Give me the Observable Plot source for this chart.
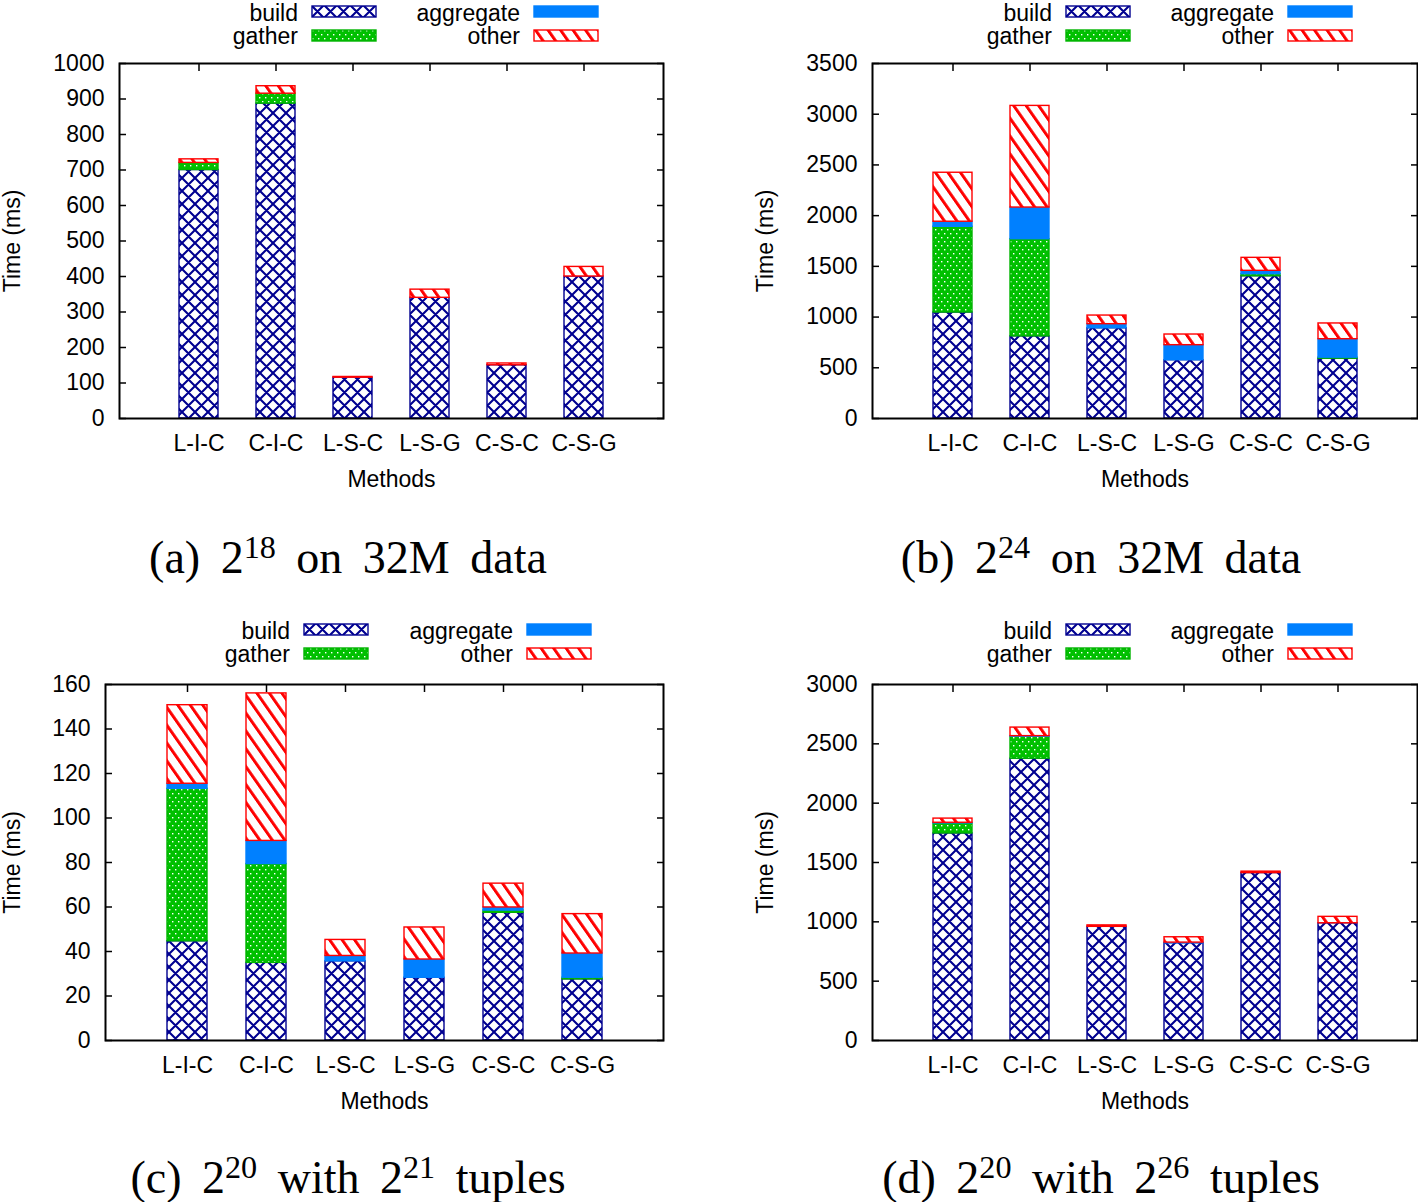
<!DOCTYPE html>
<html><head><meta charset="utf-8">
<script src="https://cdn.jsdelivr.net/npm/d3@7"></script>
<script src="https://cdn.jsdelivr.net/npm/@observablehq/plot@0.6"></script>
<style>
body{margin:0;background:#fff;}
#root{position:relative;width:1418px;height:1202px;overflow:hidden;font-family:"Liberation Sans",Arial,sans-serif;color:#000;}
.leg{position:absolute;font-size:23px;line-height:17px;white-space:nowrap;text-align:right;}
.sw{position:absolute;}
.cap{position:absolute;font-family:"Liberation Serif","Times New Roman",serif;font-size:46px;line-height:36px;white-space:nowrap;word-spacing:9px;transform:translateX(-50%);}
.cap sup{font-size:0.7em;vertical-align:0;position:relative;top:-0.47em;line-height:0;}
.plotwrap{position:absolute;}
</style></head><body>
<svg width="0" height="0" style="position:absolute">
<defs>
<pattern id="pat-build" patternUnits="userSpaceOnUse" width="13" height="13">
<rect width="13" height="13" fill="white"/>
<path d="M0,0L13,13M13,0L0,13M-2,11L2,15M11,-2L15,2M-2,2L2,-2M11,15L15,11" stroke="#000090" stroke-width="2.1" fill="none"/>
</pattern>
<pattern id="pat-gather" patternUnits="userSpaceOnUse" width="6" height="8">
<rect width="6" height="8" fill="#00c000"/>
<rect x="1" y="1" width="1.4" height="1.4" fill="white"/>
<rect x="4" y="5" width="1.4" height="1.4" fill="white"/>
</pattern>
<pattern id="pat-other" patternUnits="userSpaceOnUse" width="12.5" height="12" patternTransform="skewX(35)">
<rect width="12.5" height="12" fill="white"/>
<rect width="3.6" height="12" fill="#ff0000"/>
</pattern>
</defs>
</svg>
<div id="root"></div>
<script>
// ---- data ----
const methods = ["L-I-C", "C-I-C", "L-S-C", "L-S-G", "C-S-C", "C-S-G"];
const components = ["build", "gather", "aggregate", "other"];

// (a) 2^18 on 32M data
const a_build     = [700, 887, 115, 340, 150, 400];
const a_gather    = [20, 28, 0, 0, 0, 0];
const a_aggregate = [0, 0, 0, 0, 0, 0];
const a_other     = [10, 21, 2, 23, 5, 27];
const a_ticks     = [0, 100, 200, 300, 400, 500, 600, 700, 800, 900, 1000];

// (b) 2^24 on 32M data
const b_build     = [1045, 810, 890, 575, 1403, 590];
const b_gather    = [845, 958, 0, 0, 20, 10];
const b_aggregate = [50, 312, 40, 148, 33, 182];
const b_other     = [483, 1002, 85, 105, 128, 155];
const b_ticks     = [0, 500, 1000, 1500, 2000, 2500, 3000, 3500];

// (c) 2^20 with 2^21 tuples
const c_build     = [44.6, 34.9, 35.6, 28.2, 57.4, 27.5];
const c_gather    = [68.5, 44.4, 0, 0, 1.0, 0.7];
const c_aggregate = [2.3, 10.4, 2.4, 8.2, 1.4, 10.9];
const c_other     = [35.3, 66.3, 7.2, 14.4, 10.7, 17.7];
const c_ticks     = [0, 20, 40, 60, 80, 100, 120, 140, 160];

// (d) 2^20 with 2^26 tuples
const d_build     = [1745, 2375, 958, 820, 1411, 988];
const d_gather    = [85, 185, 0, 0, 0, 0];
const d_aggregate = [5, 5, 0, 5, 0, 0];
const d_other     = [35, 72, 12, 45, 12, 54];
const d_ticks     = [0, 500, 1000, 1500, 2000, 2500, 3000];

const captions = [
  "(a) 2<sup>18</sup> on 32M data",
  "(b) 2<sup>24</sup> on 32M data",
  "(c) 2<sup>20</sup> with 2<sup>21</sup> tuples",
  "(d) 2<sup>20</sup> with 2<sup>26</sup> tuples"
];
const yTitle = "Time (ms)";
const xTitle = "Methods";

// ---- styles ----
const fills = {build: "url(#pat-build)", gather: "url(#pat-gather)", aggregate: "#0080ff", other: "url(#pat-other)"};
const strokes = {build: "#000090", gather: "#00b400", aggregate: "#0080ff", other: "#ff0000"};

const root = document.getElementById("root");

function panel(cfg) {
  const series = cfg.series;
  const rows = [];
  methods.forEach((m, i) => components.forEach(c => {
    const v = series[c][i];
    if (v > 0) rows.push({method: m, component: c, value: v});
  }));
  const plot = Plot.plot({
    width: cfg.w, height: cfg.h,
    marginLeft: cfg.ml, marginRight: cfg.mr, marginTop: cfg.mt, marginBottom: cfg.mb,
    style: {fontFamily: '"Liberation Sans", Arial, sans-serif', fontSize: "23px", color: "black", background: "transparent", overflow: "visible"},
    x: {type: "band", domain: methods, paddingInner: 0.5, paddingOuter: 0.75, align: 0.5, label: null},
    y: {domain: [0, cfg.ticks[cfg.ticks.length - 1]], label: null},
    color: {type: "identity"},
    marks: [
      Plot.barY(rows, {x: "method", y: "value", z: "component", order: components,
        fill: d => fills[d.component], stroke: d => strokes[d.component], strokeWidth: 1.4}),
      Plot.axisY({anchor: "left", ticks: cfg.ticks, tickSize: 0, tickPadding: 15, tickFormat: d3.format("d"), label: null}),
      Plot.axisY({anchor: "left", ticks: cfg.ticks, tickSize: -7, tickFormat: () => "", label: null, strokeWidth: 1.5}),
      Plot.axisY({anchor: "right", ticks: cfg.ticks, tickSize: -7, tickFormat: () => "", label: null, strokeWidth: 1.5}),
      Plot.axisX({anchor: "bottom", tickSize: 0, tickPadding: 16, label: null}),
      Plot.axisX({anchor: "top", tickSize: -7, tickFormat: () => "", label: null, strokeWidth: 1.5}),
      Plot.frame({stroke: "black", strokeWidth: 2}),
      Plot.text([xTitle], {frameAnchor: "bottom", dy: 68, textAnchor: "middle", text: d => d}),
      Plot.text([yTitle], {frameAnchor: "left", dx: -cfg.yt, rotate: -90, textAnchor: "middle", text: d => d})
    ]
  });
  const wrap = document.createElement("div");
  wrap.className = "plotwrap";
  wrap.style.left = cfg.left + "px";
  wrap.style.top = cfg.top + "px";
  wrap.appendChild(plot);
  root.appendChild(wrap);

  // legend (2 columns x 2 rows)
  const legItems = [
    {c: "build", col: 0, row: 0}, {c: "gather", col: 0, row: 1},
    {c: "aggregate", col: 1, row: 0}, {c: "other", col: 1, row: 1}
  ];
  legItems.forEach(it => {
    const textRight = cfg.legX[it.col];
    const baseline = cfg.legY + it.row * 23.5;
    const t = document.createElement("div");
    t.className = "leg";
    t.textContent = it.c;
    t.style.right = (1418 - textRight) + "px";
    t.style.top = (baseline - 16.5) + "px";
    root.appendChild(t);
    const ns = "http://www.w3.org/2000/svg";
    const s = document.createElementNS(ns, "svg");
    s.setAttribute("class", "sw");
    s.setAttribute("width", 67); s.setAttribute("height", 14);
    s.style.left = (textRight + 13) + "px";
    s.style.top = (baseline - 16) + "px";
    const r = document.createElementNS(ns, "rect");
    r.setAttribute("x", 1); r.setAttribute("y", 1); r.setAttribute("width", 64); r.setAttribute("height", 11);
    r.setAttribute("fill", fills[it.c]); r.setAttribute("stroke", strokes[it.c]); r.setAttribute("stroke-width", 1.4);
    s.appendChild(r);
    root.appendChild(s);
  });

  const cap = document.createElement("div");
  cap.className = "cap";
  cap.innerHTML = cfg.caption;
  cap.style.left = cfg.capX + "px";
  // line-height 36px, font 46px: baseline ≈ 31.6px below box top
  cap.style.top = (cfg.capY - 31.6) + "px";
  root.appendChild(cap);
}

panel({series: {build: a_build, gather: a_gather, aggregate: a_aggregate, other: a_other}, ticks: a_ticks,
  left: 0, top: 48, w: 700, h: 460, ml: 119, mr: 37, mt: 15, mb: 90, yt: 107,
  legX: [298, 520], legY: 21, caption: captions[0], capX: 348, capY: 572});
panel({series: {build: b_build, gather: b_gather, aggregate: b_aggregate, other: b_other}, ticks: b_ticks,
  left: 709, top: 48, w: 709, h: 460, ml: 163, mr: 1, mt: 15, mb: 90, yt: 107,
  legX: [1052, 1274], legY: 21, caption: captions[1], capX: 1101, capY: 572});
panel({series: {build: c_build, gather: c_gather, aggregate: c_aggregate, other: c_other}, ticks: c_ticks,
  left: 0, top: 668, w: 700, h: 460, ml: 105, mr: 37, mt: 16, mb: 88, yt: 93,
  legX: [290, 513], legY: 639, caption: captions[2], capX: 348, capY: 1192});
panel({series: {build: d_build, gather: d_gather, aggregate: d_aggregate, other: d_other}, ticks: d_ticks,
  left: 709, top: 668, w: 709, h: 460, ml: 163, mr: 1, mt: 16, mb: 88, yt: 107,
  legX: [1052, 1274], legY: 639, caption: captions[3], capX: 1101, capY: 1192});
</script>
</body></html>
